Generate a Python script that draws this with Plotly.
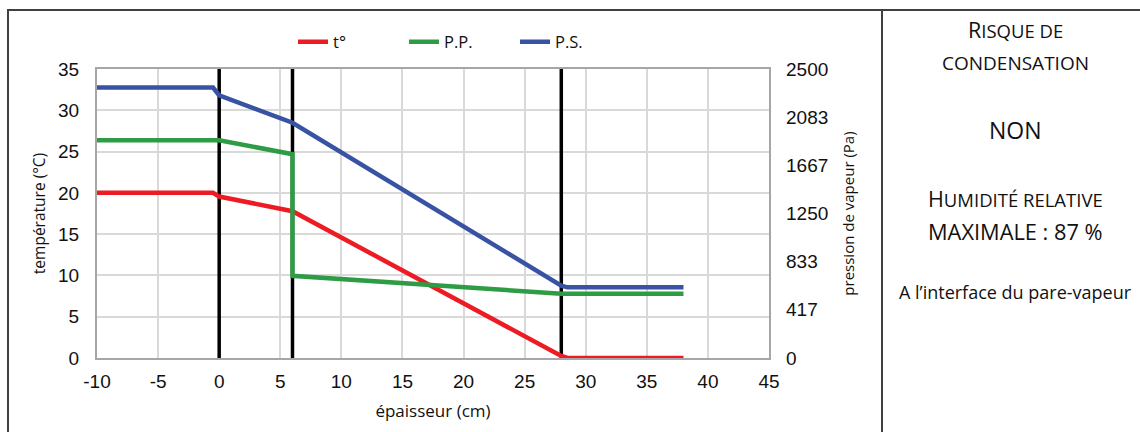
import plotly.graph_objects as go

# ---------------- data ----------------
thickness_t = [-10, -0.5, 0, 6, 28, 28.5, 38]
temperature = [20, 20, 19.55, 17.78, 0.25, 0, 0]

thickness_pp = [-10, -0.5, 0, 6, 6, 28, 28.5, 38]
p_partial = [1884, 1884, 1884, 1763, 711, 556, 556, 556]

thickness_ps = [-10, -0.5, 0, 6, 28, 28.5, 38]
p_saturation = [2339, 2339, 2271, 2035, 626, 611, 611]

interfaces = [0, 6, 28]
x_ticks = [-10, -5, 0, 5, 10, 15, 20, 25, 30, 35, 40, 45]
x_tick_labels = ["-10", "-5", "0", "5", "10", "15", "20", "25", "30", "35", "40", "45"]
pressure_ticks = [0, 417, 833, 1250, 1667, 2083, 2500]
pressure_tick_labels = ["0", "417", "833", "1250", "1667", "2083", "2500"]

series_names = ["t°", "P.P.", "P.S."]
colors = ["#ED1C24", "#2E9B45", "#3853A4"]

# ---------------- layout geometry ----------------
FW, FH = 1140, 432
L, R, T, B = 97, 371, 69, 74
PW, PH = FW - L - R, FH - T - B


def px_x(px):
    return (px - L) / PW


def px_y(py):
    return (FH - B - py) / PH


CAL = "Open Sans, Lato, sans-serif"
ARI = "Liberation Sans, Arial, sans-serif"
TXT = "#111111"

fig = go.Figure()

# interface lines (black verticals)
vx, vy = [], []
for xi in interfaces:
    vx += [xi, xi, None]
    vy += [0, 35, None]
fig.add_trace(go.Scatter(x=vx, y=vy, mode="lines", line=dict(color="black", width=3.5),
                         showlegend=False, hoverinfo="skip", yaxis="y"))

fig.add_trace(go.Scatter(x=thickness_t, y=temperature, mode="lines", name=series_names[0],
                         line=dict(color=colors[0], width=4.5), yaxis="y"))
fig.add_trace(go.Scatter(x=thickness_pp, y=p_partial, mode="lines", name=series_names[1],
                         line=dict(color=colors[1], width=4.5), yaxis="y2"))
fig.add_trace(go.Scatter(x=thickness_ps, y=p_saturation, mode="lines", name=series_names[2],
                         line=dict(color=colors[2], width=4.5), yaxis="y2"))

grid_c = "#D9D9D9"
frame_c = "#A6A6A6"

fig.update_layout(
    width=FW, height=FH,
    margin=dict(l=L, r=R, t=T, b=B, pad=0),
    paper_bgcolor="white", plot_bgcolor="white",
    showlegend=True,
    legend=dict(orientation="h", x=px_x(293), y=px_y(42), xanchor="left", yanchor="middle",
                font=dict(family=CAL, size=16.5, color=TXT),
                itemwidth=30, entrywidthmode="pixels", entrywidth=66,
                bgcolor="rgba(0,0,0,0)", borderwidth=0),
    xaxis=dict(range=[-10, 45], tickvals=x_ticks, ticktext=x_tick_labels,
               showgrid=True, gridcolor=grid_c, gridwidth=1.5,
               showline=True, linecolor=frame_c, linewidth=2, mirror=True, zeroline=False,
               ticks="", ticklabelstandoff=5,
               tickfont=dict(family=ARI, size=19, color=TXT),
               title=dict(text="épaisseur (cm)", font=dict(family=CAL, size=17, color=TXT), standoff=14)),
    yaxis=dict(range=[0, 35], dtick=5, showgrid=True, gridcolor=grid_c, gridwidth=1.5,
               showline=True, linecolor=frame_c, linewidth=2, mirror=True, zeroline=False,
               ticks="", ticklabelstandoff=12,
               tickfont=dict(family=ARI, size=19, color=TXT),
               title=dict(text="température (°C)", font=dict(family=CAL, size=15.5, color=TXT), standoff=9)),
    yaxis2=dict(range=[0, 2500], overlaying="y", side="right", tickvals=pressure_ticks,
                ticktext=pressure_tick_labels, showgrid=False, zeroline=False, showline=False,
                ticks="", ticklabelstandoff=16,
                tickfont=dict(family=ARI, size=19, color=TXT),
                title=dict(text="pression de vapeur (Pa)", font=dict(family=CAL, size=15, color=TXT), standoff=16)),
)

# outer frame and divider
border_c = "#404040"
fig.add_shape(type="line", xref="paper", yref="paper", x0=px_x(7), x1=px_x(FW), y0=px_y(10), y1=px_y(10),
              line=dict(color=border_c, width=2))
fig.add_shape(type="line", xref="paper", yref="paper", x0=px_x(8), x1=px_x(8), y0=px_y(10), y1=px_y(FH),
              line=dict(color=border_c, width=2))
fig.add_shape(type="line", xref="paper", yref="paper", x0=px_x(882), x1=px_x(882), y0=px_y(10), y1=px_y(FH),
              line=dict(color=border_c, width=2))

BIG, SMALL = 21.5, 18.5


def sc(first, rest):
    """small caps emulation: large first letter, smaller capitals after"""
    return f"<span style='font-size:{BIG}px'>{first}</span><span style='font-size:{SMALL}px'>{rest}</span>"


cx = px_x(1015)
panel = [
    (sc("R", "ISQUE DE"), 29, SMALL),
    ("CONDENSATION", 63, 19),
    ("NON", 130, 23),
    (sc("H", "UMIDITÉ RELATIVE"), 198, SMALL),
    ("MAXIMALE : 87 %", 231.5, 21.8),
    ("A l’interface du pare-vapeur", 292, 18),
]
for txt, yy, fs in panel:
    fig.add_annotation(text=txt, xref="paper", yref="paper", x=cx, y=px_y(yy), xanchor="center",
                       yanchor="middle", showarrow=False, font=dict(family=CAL, size=fs, color=TXT))

fig.write_html("out.html", config={"displayModeBar": False},
               post_script="document.body.style.margin='0';")
